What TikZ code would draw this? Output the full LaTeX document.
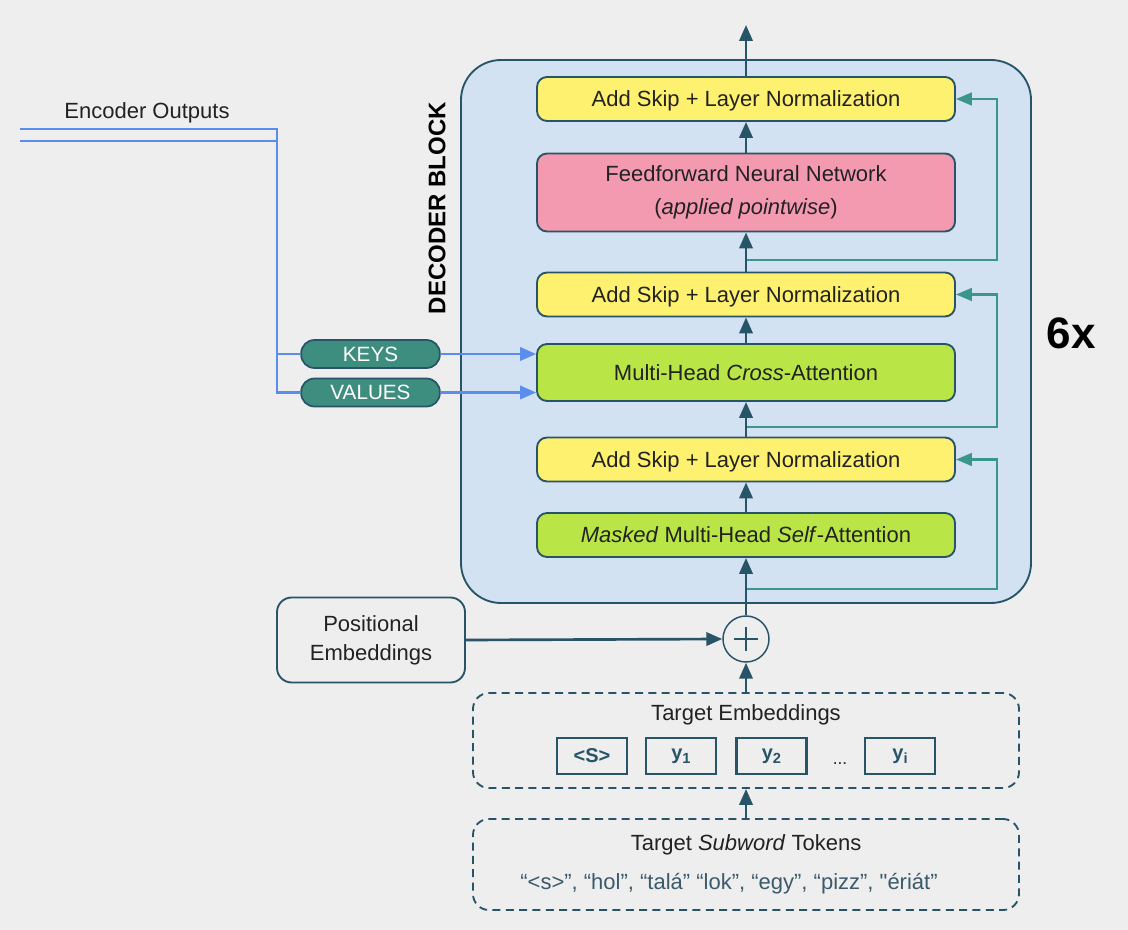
\documentclass[tikz,border=0pt]{standalone}
\usepackage{fontspec}
\setmainfont{Liberation Sans}
\newfontfamily\tokfont{Liberation Sans}
\usetikzlibrary{arrows.meta,calc}
\definecolor{bg}{HTML}{EEEEEE}
\definecolor{blockfill}{HTML}{D3E2F2}
\definecolor{dk}{HTML}{285468}
\definecolor{yel}{HTML}{FEF16F}
\definecolor{pink}{HTML}{F49AB0}
\definecolor{grn}{HTML}{B9E646}
\definecolor{skipc}{HTML}{3A9688}
\definecolor{encblue}{HTML}{5B8DEF}
\definecolor{pill}{HTML}{3E8E80}
\definecolor{txt}{HTML}{222222}
\definecolor{tok}{HTML}{3B5A6B}
\tikzset{
  mainfont/.style={font=\fontsize{16.5}{25}\selectfont},
  layer/.style={draw=dk, line width=1.4pt, rounded corners=7.5pt, minimum width=313.5pt,
    text=txt, mainfont, inner sep=0pt, align=center},
  oneline/.style={text height=14pt, text depth=2.5pt},
  addnorm/.style={layer, oneline, fill=yel, minimum height=33pt},
  arr/.style={draw=dk, line width=2pt, -{Triangle[length=12pt,width=10pt]}},
  skip/.style={draw=skipc, line width=1.9pt, -{Triangle[length=12pt,width=9.5pt]}},
  enc/.style={draw=encblue, line width=1.9pt},
  encarr/.style={enc, -{Triangle[length=12pt,width=10pt]}},
  pillbox/.style={draw=dk, line width=1.3pt, fill=pill, rounded corners=10pt, minimum width=104pt,
    minimum height=21pt, inner sep=0pt, text=white, font=\fontsize{15.5}{18}\selectfont},
  dashbox/.style={draw=dk, line width=1.4pt, dash pattern=on 6pt off 4pt, rounded corners=12pt,
    minimum width=409.5pt, inner sep=0pt},
  tokbox/.style={draw=dk, line width=1.6pt, minimum width=52.5pt, minimum height=27pt, inner sep=0pt,
    text=dk, font=\bfseries\fontsize{15}{18}\selectfont},
}
\begin{document}
\begin{tikzpicture}[x=0.75pt,y=-0.75pt]
\useasboundingbox (0,0) rectangle (1128,930);
\fill[bg] (0,0) rectangle (1128,930);

% decoder block
\node[draw=dk, fill=blockfill, line width=1.4pt, rounded corners=30pt, minimum width=427.5pt,
  minimum height=407.25pt, inner sep=0pt] (block) at (746,331.5) {};
\node[rotate=90, font=\bfseries\fontsize{18}{20}\selectfont, text=black] (declabel) at (437,208) {DECODER BLOCK};
\node[font=\bfseries\fontsize{33}{36}\selectfont, text=black] (six) at (1071,333) {6x};

% layers
\node[addnorm] (topAN) at (746,99) {Add Skip + Layer Normalization};
\node[layer, fill=pink, minimum height=58.5pt] (ffn) at (746,192.5) {Feedforward Neural Network\\(\textit{applied pointwise})};
\node[addnorm] (midAN) at (746,294.5) {Add Skip + Layer Normalization};
\node[layer, oneline, fill=grn, minimum height=42.75pt] (cross) at (746,372.5) {Multi-Head \textit{Cross}-Attention};
\node[addnorm] (lowAN) at (746,459.5) {Add Skip + Layer Normalization};
\node[layer, oneline, fill=grn, minimum height=33pt] (masked) at (746,535) {\textit{Masked} Multi-Head \textit{Self}-Attention};

% plus
\node[circle, draw=dk, fill=bg, line width=1.1pt, minimum size=34.5pt, inner sep=0pt] (plus) at (746,639) {};
\draw[dk, line width=0.8pt] ([xshift=-9pt]plus.center) -- ([xshift=9pt]plus.center);
\draw[dk, line width=0.8pt] ([yshift=-9pt]plus.center) -- ([yshift=9pt]plus.center);

% skip connections
\coordinate (s1) at (746,589);
\coordinate (s2) at (746,427);
\coordinate (s3) at (746,260);
\draw[skip] (s1) -| ($(lowAN.east)+(41,0)$) -- (lowAN.east);
\draw[skip] (s2) -| ($(midAN.east)+(41,0)$) -- (midAN.east);
\draw[skip] (s3) -| ($(topAN.east)+(41,0)$) -- (topAN.east);

% main flow
\coordinate (out) at (746,25);
\draw[arr] (plus.north) -- (masked.south);
\draw[arr] (masked.north) -- (lowAN.south);
\draw[arr] (lowAN.north) -- (cross.south);
\draw[arr] (cross.north) -- (midAN.south);
\draw[arr] (midAN.north) -- (ffn.south);
\draw[arr] (ffn.north) -- (topAN.south);
\draw[arr] (topAN.north) -- (out);

% positional embeddings
\node[draw=dk, fill=bg, line width=1.4pt, rounded corners=11pt, minimum width=141pt, minimum height=63.75pt,
  inner sep=0pt, align=center, text=txt, font=\fontsize{16.5}{22}\selectfont] (pos) at (371,640) {Positional\\Embeddings};
\draw[arr] (pos.east) -- (plus.west);

% target embeddings
\node[dashbox, minimum height=71.25pt] (tgt) at (746,740.5) {};
\node[text=txt, mainfont] (tgttitle) at (746,715) {Target Embeddings};
\node[tokbox] (t0) at (592,756) {<S>};
\node[tokbox] (t1) at (681,756) {y\raisebox{-3pt}{\fontsize{11}{12}\selectfont 1}};
\node[tokbox] (t2) at (771.5,756) {y\raisebox{-3pt}{\fontsize{11}{12}\selectfont 2}};
\node[text=txt, font=\fontsize{13}{15}\selectfont] (tdots) at (840,764) {...};
\node[tokbox] (ti) at (900,756) {y\raisebox{-3pt}{\fontsize{11}{12}\selectfont i}};

% subword tokens
\node[dashbox, minimum height=68.25pt] (sub) at (746,864.5) {};
\node[text=txt, mainfont] (subtitle) at (746,845) {Target \textit{Subword} Tokens};
\node[text=tok, font=\tokfont\fontsize{16.5}{25}\selectfont] (toks) at (729,884) {“<s>”, “hol”, “talá” “lok”, “egy”, “pizz”, "ériát”};

\draw[arr] (sub.north) -- (tgt.south);
\draw[arr] (tgt.north) -- (plus.south);

% encoder outputs
\node[text=txt, mainfont] (enctitle) at (147,113) {Encoder Outputs};
\coordinate (e1) at (20,129);
\coordinate (e2) at (20,141);
\coordinate (j1) at (277,129);
\coordinate (jv) at (277,392.5);
\node[pillbox] (keys) at (370.5,354) {KEYS};
\node[pillbox] (values) at (370.5,392.5) {VALUES};
\draw[enc] (e1) -- (j1) -- (jv) -- (values.west);
\draw[enc] (e2) -- (e2 -| j1);
\draw[enc] (keys.west -| j1) -- (keys.west);
\draw[encarr] (keys.east) -- (keys.east -| cross.west);
\draw[encarr] (values.east) -- (values.east -| cross.west);
\end{tikzpicture}
\end{document}
